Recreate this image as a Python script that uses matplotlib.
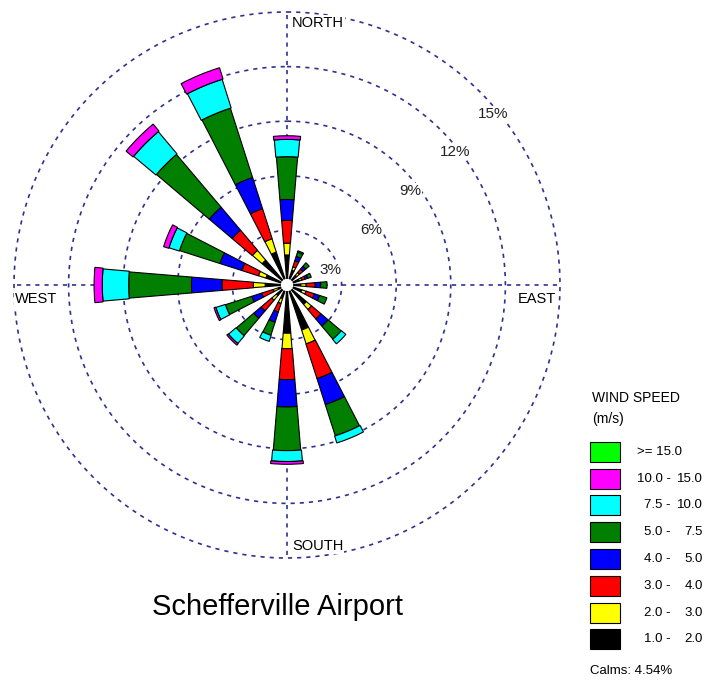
import numpy as np
import matplotlib
matplotlib.use('Agg')
import matplotlib.pyplot as plt
from matplotlib.patches import Rectangle

plt.rcParams['font.family'] = ['Liberation Sans', 'DejaVu Sans']

# wind directions, clockwise from north
directions = ['N', 'NNE', 'NE', 'ENE', 'E', 'ESE', 'SE', 'SSE',
              'S', 'SSW', 'SW', 'WSW', 'W', 'WNW', 'NW', 'NNW']
dir_deg = np.arange(len(directions)) * 22.5

# frequency (%) per speed class, same order as directions
f_1_2 = [1.65, 0.85, 0.70, 0.70, 0.75, 0.85, 1.40, 2.60, 2.65, 0.78, 0.77, 0.50, 1.20, 1.22, 1.80, 1.90]
f_2_3 = [0.65, 0.20, 0.20, 0.15, 0.30, 0.25, 0.37, 0.80, 0.85, 0.29, 0.33, 0.30, 0.65, 0.43, 0.70, 0.77]
f_3_4 = [1.25, 0.35, 0.25, 0.20, 0.50, 0.48, 0.68, 2.00, 1.70, 0.49, 0.77, 0.66, 1.72, 0.95, 1.45, 1.73]
f_4_5 = [1.15, 0.25, 0.20, 0.15, 0.30, 0.30, 0.51, 1.50, 1.50, 0.59, 0.53, 0.57, 1.68, 1.27, 1.65, 1.80]
f_5_75 = [2.35, 0.25, 0.25, 0.20, 0.35, 0.42, 0.94, 1.80, 2.40, 0.75, 1.25, 1.52, 3.45, 2.33, 3.80, 4.00]
f_75_10 = [0.95, 0.07, 0.00, 0.00, 0.00, 0.00, 0.32, 0.40, 0.60, 0.35, 0.55, 0.55, 1.45, 0.60, 1.60, 1.65]
f_10_15 = [0.20, 0.00, 0.00, 0.00, 0.00, 0.00, 0.00, 0.00, 0.15, 0.00, 0.10, 0.10, 0.45, 0.30, 0.50, 0.65]
f_15 = [0.0] * 16

classes = [f_1_2, f_2_3, f_3_4, f_4_5, f_5_75, f_75_10, f_10_15, f_15]
class_labels = ['1.0 -', '2.0 -', '3.0 -', '4.0 -', '5.0 -', '7.5 -', '10.0 -', '>= 15.0']
class_upper = ['2.0', '3.0', '4.0', '5.0', '7.5', '10.0', '15.0', '']
class_colors = ['#000000', '#ffff00', '#ff0000', '#0000ff', '#007f00', '#00ffff', '#ff00ff', '#00ff00']
class_width = [9.0, 9.0, 9.5, 9.5, 9.5, 10.0, 10.5, 11.0]  # degrees

rings = [3, 6, 9, 12, 15]
ring_labels = ['3%', '6%', '9%', '12%', '15%']
calms = 4.54

W, H = 709, 681
grid_col = '#30308f'


def fig_xy(x, y):
    return x / W, 1 - y / H


fig = plt.figure(figsize=(W / 100, H / 100), dpi=100)
ax = fig.add_axes([14 / W, 123 / H, 546 / W, 546 / H], projection='polar')
ax.set_theta_zero_location('N')
ax.set_theta_direction(-1)
ax.set_ylim(0, 15)
ax.axis('off')

# dashed rings and compass lines
th = np.linspace(0, 2 * np.pi, 721)
for r in rings:
    ax.plot(th, np.full_like(th, r), color=grid_col, lw=1.2,
            ls=(0, (2.5, 3)), zorder=1, clip_on=False)
for a in [0, 90, 180, 270]:
    ax.plot(np.deg2rad([a, a]), [0, 15], color=grid_col, lw=1.2,
            ls=(0, (2.5, 3)), zorder=1, clip_on=False)

# stacked bars
theta = np.deg2rad(dir_deg)
bottom = np.zeros(len(directions))
for vals, col, w in zip(classes, class_colors, class_width):
    vals = np.array(vals)
    m = vals > 0
    if m.any():
        ax.bar(theta[m], vals[m], width=np.deg2rad(w), bottom=bottom[m],
               color=col, edgecolor='black', linewidth=0.8, zorder=3)
    bottom += vals

# centre hole
ax.fill(th, np.full_like(th, 0.3), color='white', zorder=4)

# ring labels
label_pos = [(71, 2.55), (57, 5.5), (52.6, 8.5), (51.6, 11.8), (50.3, 14.75)]
for lbl, (a, r) in zip(ring_labels, label_pos):
    ax.text(np.deg2rad(a), r, lbl, ha='center', va='center', fontsize=11,
            color='#222222', zorder=2,
            bbox=dict(fc='white', ec='none', pad=0.6))

# compass labels
box = dict(fc='white', ec='none', pad=0.5)
ax.annotate('NORTH', xy=(0, 15), xytext=(5, -4), textcoords='offset pixels',
            ha='left', va='top', fontsize=10.5, bbox=box, zorder=2, annotation_clip=False)
ax.annotate('SOUTH', xy=(np.pi, 15), xytext=(5, 5), textcoords='offset pixels',
            ha='left', va='bottom', fontsize=10.5, bbox=box, zorder=2, annotation_clip=False)
ax.annotate('WEST', xy=(1.5 * np.pi, 15), xytext=(1, -7), textcoords='offset pixels',
            ha='left', va='top', fontsize=10.5, bbox=box, zorder=2, annotation_clip=False)
ax.annotate('EAST', xy=(0.5 * np.pi, 15), xytext=(-4, -7), textcoords='offset pixels',
            ha='right', va='top', fontsize=10.5, bbox=box, zorder=2, annotation_clip=False)

# title
fig.text(*fig_xy(277, 615), 'Schefferville Airport', ha='center', va='baseline', fontsize=21)

# legend
fig.text(*fig_xy(592, 398.5), 'WIND SPEED', ha='left', va='center', fontsize=10)
fig.text(*fig_xy(592, 419.5), '(m/s)', ha='left', va='center', fontsize=10)
for i in range(len(classes)):
    k = len(classes) - 1 - i
    yc = 451.7 + i * 26.8
    x0, y0 = fig_xy(590, yc + 10)
    fig.add_artist(Rectangle((x0, y0), 30 / W, 20 / H, transform=fig.transFigure,
                             facecolor=class_colors[k], edgecolor='black', linewidth=0.8))
    if class_upper[k]:
        fig.text(*fig_xy(671, yc), class_labels[k], ha='right', va='center', fontsize=9.5)
        fig.text(*fig_xy(703, yc), class_upper[k], ha='right', va='center', fontsize=9.5)
    else:
        fig.text(*fig_xy(637, yc), class_labels[k], ha='left', va='center', fontsize=9.5)
fig.text(*fig_xy(590, 671), 'Calms: %.2f%%' % calms, ha='left', va='center', fontsize=9.5)

fig.savefig('out.png', dpi=100)
